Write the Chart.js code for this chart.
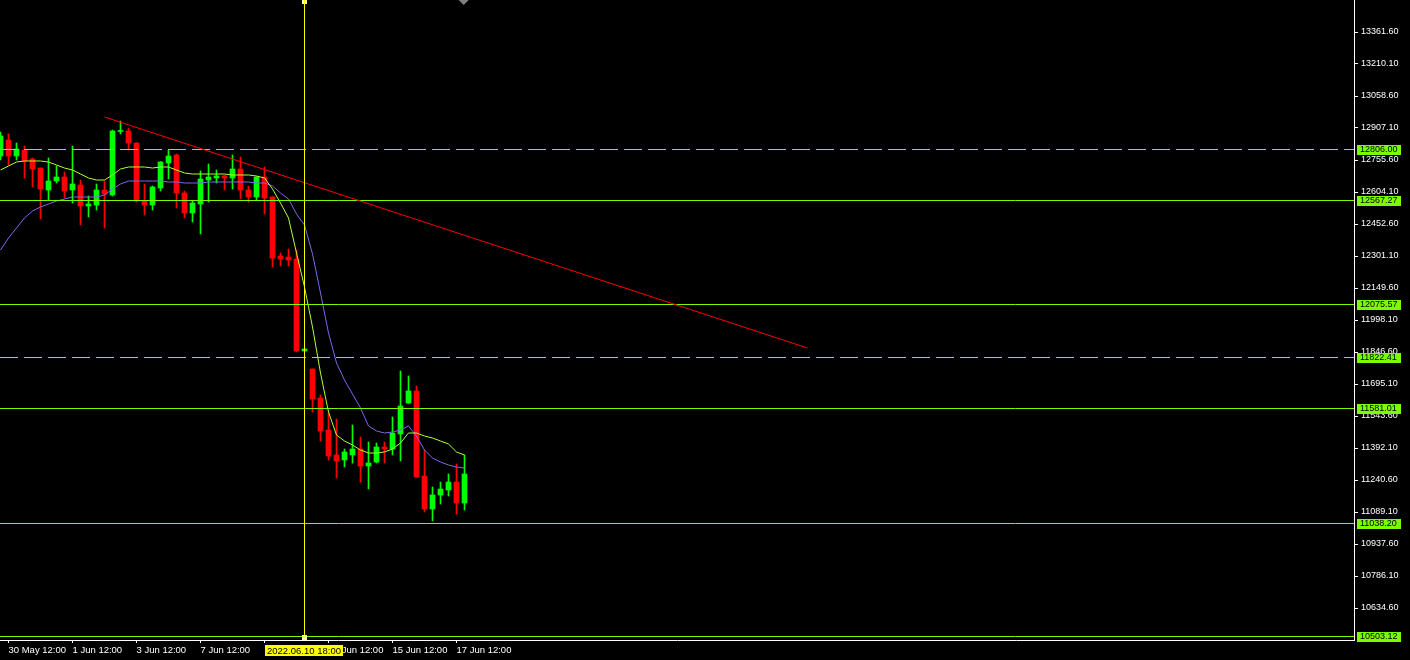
<!DOCTYPE html>
<html>
<head>
<meta charset="utf-8">
<script src="https://cdn.jsdelivr.net/npm/chart.js@4.4.1/dist/chart.umd.min.js"></script>
<style>
  html, body { margin: 0; padding: 0; background: #000; overflow: hidden; }
  canvas { display: block; background: #000; }
</style>
</head>
<body>
<canvas id="chart" width="1410" height="660"></canvas>
<script>
// H6 candles, one per bar index (0 = first visible bar)
const opens  = [12774.5, 12850.3, 12774.5, 12802.9, 12760.3, 12717.7, 12613.6, 12656.2, 12675.1, 12613.6,
                12637.2, 12537.8, 12542.6, 12613.6, 12589.9, 12890.5, 12892.9, 12836.1, 12561.5, 12542.6,
                12623.1, 12741.4, 12779.3, 12599.4, 12504.7, 12547.3, 12660.9, 12670.4, 12679.9, 12670.4,
                12713.0, 12613.6, 12580.4, 12675.1, 12580.4, 12301.1, 12296.4, 12286.9, 11851.3, 11766.1,
                11628.8, 11477.3, 11358.9, 11335.3, 11358.9, 11387.4, 11306.9, 11325.8, 11396.9, 11387.4,
                11458.4, 11605.2, 11662.0, 11259.5, 11103.3, 11169.6, 11193.3, 11231.1, 11131.7];
const highs  = [12888.2, 12878.7, 12836.1, 12821.9, 12765.1, 12717.7, 12765.1, 12727.2, 12698.8, 12821.9,
                12660.9, 12585.2, 12642.0, 12656.2, 12897.6, 12940.2, 12907.1, 12838.0, 12642.0, 12632.5,
                12748.0, 12802.9, 12784.0, 12608.8, 12561.5, 12703.5, 12736.7, 12708.3, 12684.6, 12779.3,
                12769.8, 12632.5, 12677.0, 12722.5, 12582.0, 12315.3, 12334.2, 12329.5, 11861.0, 11767.0,
                11643.0, 11557.8, 11529.4, 11387.4, 11500.9, 11444.2, 11420.5, 11415.8, 11420.5, 11538.9,
                11756.6, 11733.0, 11685.7, 11382.6, 11207.5, 11231.1, 11269.0, 11316.4, 11358.9];
const lows   = [12755.6, 12731.9, 12755.6, 12670.4, 12627.8, 12476.3, 12566.2, 12646.7, 12575.7, 12552.0,
                12447.9, 12485.7, 12518.9, 12433.7, 12585.2, 12878.7, 12802.9, 12556.8, 12495.2, 12518.9,
                12608.8, 12665.6, 12528.4, 12481.0, 12462.1, 12405.3, 12556.8, 12646.7, 12613.6, 12618.3,
                12570.9, 12556.8, 12566.2, 12500.0, 12249.0, 12253.8, 12253.8, 11846.6, 11851.3, 11562.5,
                11425.2, 11335.3, 11250.1, 11302.1, 11320.6, 11231.1, 11198.0, 11321.1, 11321.1, 11358.9,
                11330.6, 11603.0, 11253.0, 11089.1, 11046.5, 11126.9, 11164.9, 11079.6, 11098.6];
const closes = [12869.2, 12774.5, 12807.7, 12750.9, 12713.0, 12618.3, 12656.2, 12675.1, 12608.8, 12642.0,
                12537.8, 12547.3, 12613.6, 12594.6, 12892.9, 12892.9, 12836.1, 12561.5, 12542.6, 12627.8,
                12746.1, 12774.5, 12599.4, 12504.7, 12552.0, 12665.6, 12675.1, 12679.9, 12670.4, 12713.0,
                12613.6, 12580.4, 12675.1, 12575.7, 12291.6, 12286.9, 12282.2, 11851.3, 11860.8, 11624.1,
                11472.6, 11354.2, 11330.6, 11373.2, 11387.4, 11306.9, 11321.1, 11396.9, 11387.4, 11463.1,
                11590.9, 11662.0, 11254.8, 11103.3, 11169.6, 11198.0, 11231.1, 11131.7, 11269.0];

// moving averages
const maFast = [12708.3, 12727.2, 12746.1, 12750.9, 12750.9, 12750.9, 12746.1, 12731.9, 12717.7, 12708.3,
                12689.3, 12670.4, 12660.9, 12660.9, 12684.6, 12713.0, 12722.5, 12722.5, 12722.5, 12717.7,
                12722.5, 12722.5, 12708.3, 12694.1, 12689.3, 12689.3, 12689.3, 12689.3, 12689.3, 12684.6,
                12684.6, 12684.6, 12679.9, 12670.4, 12618.3, 12552.0, 12481.0, 12315.3, 12154.3, 11964.9,
                11747.1, 11562.5, 11453.6, 11425.2, 11406.3, 11382.6, 11368.4, 11368.4, 11373.2, 11387.4,
                11415.8, 11463.1, 11463.1, 11448.9, 11439.4, 11425.2, 11411.0, 11373.2, 11358.9];
const maSlow = [12329.5, 12386.3, 12433.7, 12481.0, 12514.1, 12533.1, 12547.3, 12561.5, 12570.9, 12580.4,
                12580.4, 12580.4, 12580.4, 12589.9, 12618.3, 12642.0, 12656.2, 12656.2, 12656.2, 12656.2,
                12656.2, 12651.5, 12651.5, 12646.7, 12646.7, 12646.7, 12651.5, 12651.5, 12651.5, 12651.5,
                12651.5, 12651.5, 12646.7, 12646.7, 12632.5, 12599.4, 12570.9, 12500.0, 12447.9, 12310.6,
                12126.0, 11936.6, 11794.5, 11714.0, 11647.8, 11581.5, 11496.3, 11472.6, 11463.1, 11467.9,
                11477.3, 11496.3, 11448.9, 11382.6, 11344.8, 11325.8, 11311.6, 11302.1, 11297.4];

// horizontal levels
const levelPrices = [12806.00, 12567.27, 12075.57, 11822.41, 11581.01, 11038.20, 10503.12];
const levelDashed = [true, false, false, true, false, false, false];

// trend line (bar index, price)
const trendBars = [13, 100.875];
const trendPrices = [12959.2, 11865.5];

// axes
const priceTicks = [10634.60, 10786.10, 10937.60, 11089.10, 11240.60, 11392.10, 11543.60, 11695.10,
                    11846.60, 11998.10, 12149.60, 12301.10, 12452.60, 12604.10, 12755.60, 12907.10,
                    13058.60, 13210.10, 13361.60];
const timeTickBars = [1, 9, 17, 25, 33, 41, 49, 57];
const timeTickLabels = ['30 May 12:00', '1 Jun 12:00', '3 Jun 12:00', '7 Jun 12:00',
                        '9 Jun 12:00', '13 Jun 12:00', '15 Jun 12:00', '17 Jun 12:00'];
const cursorBar = 38;
const cursorLabel = '2022.06.10 18:00';
const shiftBar = 57.9;

const yMin = 10483.1, yMax = 13513.1;
const xMin = -0.0625, xMax = 169.1875;

const GREEN = '#00ff00', RED = '#ff0000', LEVEL = '#7cfc00';

const idx = opens.map((_, i) => i);
const candleColors = idx.map(i => closes[i] >= opens[i] ? GREEN : RED);

const levelSets = levelPrices.map((p, k) => ({
  type: 'line',
  isLevel: true,
  data: [{x: xMin, y: p}, {x: xMax, y: p}],
  borderColor: LEVEL,
  borderWidth: 1,
  borderDash: levelDashed[k] ? [18, 6] : [],
  pointRadius: 0,
  order: 2
}));

// snap the horizontal levels onto whole pixels so they stay 1px sharp
const crispLevels = {
  id: 'crispLevels',
  beforeDatasetDraw(chart, args) {
    if (!chart.data.datasets[args.index].isLevel) return;
    args.meta.data.forEach(pt => { pt.y = Math.round(pt.y) + 0.5; });
  }
};

const overlay = {
  id: 'overlay',
  afterDraw(chart) {
    const ctx = chart.ctx;
    const xs = chart.scales.x, ys = chart.scales.y;
    ctx.save();
    // price labels of the levels
    ctx.font = '9px "Liberation Sans", Arial, sans-serif';
    ctx.textBaseline = 'middle';
    ctx.textAlign = 'left';
    levelPrices.forEach(p => {
      const y = Math.round(ys.getPixelForValue(p));
      ctx.fillStyle = LEVEL;
      ctx.fillRect(1357, y - 4, 44, 10);
      ctx.fillStyle = '#000';
      ctx.fillText(p.toFixed(2), 1360, y + 1);
    });
    // cursor label on time axis
    const cx = Math.floor(xs.getPixelForValue(cursorBar));
    ctx.fillStyle = '#ffff00';
    ctx.fillRect(cx - 39, 645, 78, 11);
    ctx.fillStyle = '#000';
    ctx.font = '9.5px "Liberation Sans", Arial, sans-serif';
    ctx.textAlign = 'center';
    ctx.fillText(cursorLabel, cx, 651);
    // cursor handles
    ctx.fillStyle = '#ffffa0';
    ctx.fillRect(cx - 2, 0, 5, 4);
    ctx.fillRect(cx - 2, 635, 5, 5);
    ctx.fillStyle = '#ffff00';
    ctx.fillRect(cx, 0, 1, 4);
    // chart shift marker
    const sx = xs.getPixelForValue(shiftBar);
    ctx.fillStyle = '#808080';
    ctx.beginPath();
    ctx.moveTo(sx - 5, 0);
    ctx.lineTo(sx + 5, 0);
    ctx.lineTo(sx, 5);
    ctx.closePath();
    ctx.fill();
    ctx.restore();
  }
};

new Chart(document.getElementById('chart'), {
  type: 'bar',
  data: {
    datasets: [
      {
        type: 'line',
        data: [{x: cursorBar, y: yMax}, {x: cursorBar, y: yMin}],
        borderColor: '#ffff00', borderWidth: 1, pointRadius: 0, order: 0
      },
      ...levelSets,
      {
        type: 'line',
        data: trendBars.map((b, k) => ({x: b, y: trendPrices[k]})),
        borderColor: RED, borderWidth: 1, pointRadius: 0, order: 1
      },
      {
        type: 'line',
        data: idx.map(i => ({x: i, y: maFast[i]})),
        borderColor: '#adff2f', borderWidth: 1, pointRadius: 0, tension: 0, order: 3
      },
      {
        type: 'line',
        data: idx.map(i => ({x: i, y: maSlow[i]})),
        borderColor: '#7b68ee', borderWidth: 1, pointRadius: 0, tension: 0, order: 3
      },
      {
        data: idx.map(i => ({x: i, y: [opens[i], closes[i]]})),
        backgroundColor: candleColors,
        barThickness: 5, minBarLength: 1, borderWidth: 0, grouped: false, order: 4
      },
      {
        data: idx.map(i => ({x: i, y: [lows[i], highs[i]]})),
        backgroundColor: candleColors,
        barThickness: 1, borderWidth: 0, grouped: false, order: 5
      }
    ]
  },
  options: {
    responsive: false,
    animation: false,
    events: [],
    layout: { padding: 0 },
    plugins: { legend: { display: false }, tooltip: { enabled: false } },
    scales: {
      x: {
        type: 'linear',
        min: xMin, max: xMax,
        offset: false,
        grid: { drawOnChartArea: false, drawTicks: true, tickLength: 3, color: '#fff', offset: false },
        border: { display: true, color: '#fff' },
        afterBuildTicks: s => { s.ticks = timeTickBars.map(v => ({value: v})); },
        afterFit: s => { s.height = 20; s.paddingLeft = 0; s.paddingRight = 0; },
        ticks: {
          autoSkip: false, maxRotation: 0, align: 'start', labelOffset: 0, padding: 2,
          color: '#fff',
          font: { family: '"Liberation Sans", Arial, sans-serif', size: 9.5 },
          callback: (v, i) => timeTickLabels[i]
        }
      },
      y: {
        type: 'linear',
        position: 'right',
        min: yMin, max: yMax,
        grid: { drawOnChartArea: false, drawTicks: true, tickLength: 4, color: '#fff' },
        border: { display: true, color: '#fff' },
        afterBuildTicks: s => { s.ticks = priceTicks.map(v => ({value: v})); },
        afterFit: s => { s.width = 56; s.paddingTop = 0; s.paddingBottom = 0; },
        ticks: {
          padding: 3, color: '#fff',
          font: { family: '"Liberation Sans", Arial, sans-serif', size: 9 },
          callback: v => Number(v).toFixed(2)
        }
      }
    }
  },
  plugins: [crispLevels, overlay]
});
</script>
</body>
</html>
